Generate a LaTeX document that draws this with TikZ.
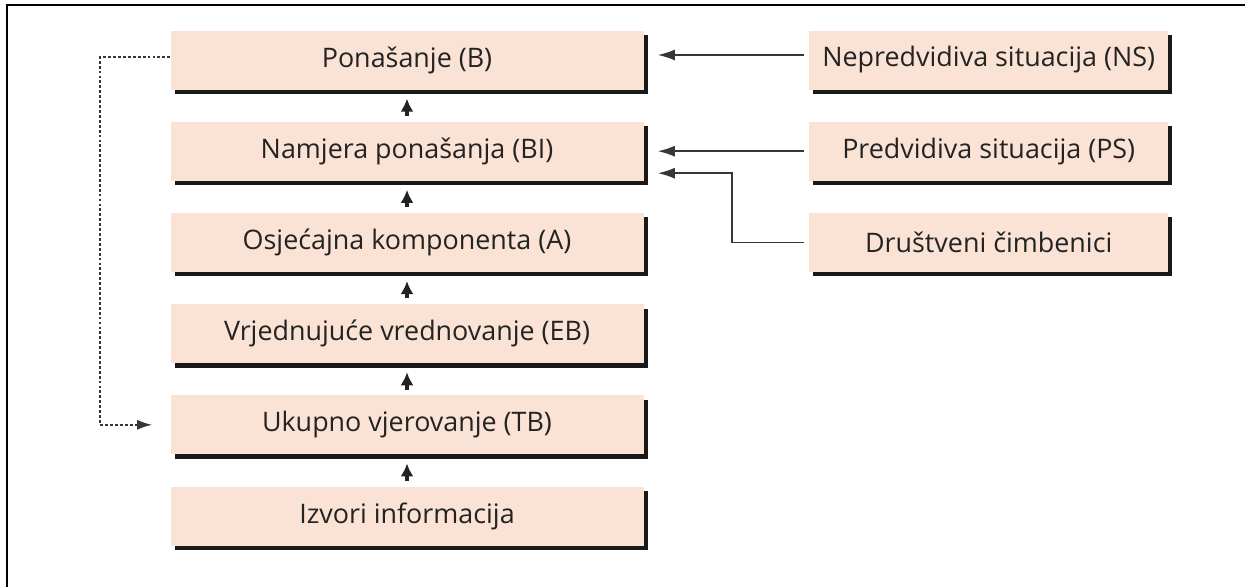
\documentclass[tikz,border=0pt]{standalone}
\usepackage{fontspec}
\setmainfont{Open Sans}
\usetikzlibrary{arrows.meta,positioning,shadows}
\definecolor{boxPeach}{RGB}{250,227,213}
\definecolor{inkGray}{RGB}{35,35,35}
\definecolor{lineGray}{RGB}{55,55,55}
\tikzset{
  stage/.style={fill=boxPeach,minimum width=9.46cm,minimum height=1.18cm,inner sep=0pt,
    text=inkGray,font=\fontsize{15.3}{17}\selectfont,
    drop shadow={shadow xshift=2.4pt,shadow yshift=-2.6pt,fill=black!90,opacity=1}},
  factor/.style={stage,minimum width=7.18cm},
  upflow/.style={-{Latex[length=0.26cm,width=0.26cm]},line width=1.8pt,color=inkGray,shorten <=3pt,shorten >=5pt},
  sideflow/.style={-{Latex[length=0.34cm,width=0.22cm]},line width=0.9pt,color=lineGray,shorten <=0.1cm,shorten >=0.28cm},
  feedback/.style={-{Latex[length=0.3cm,width=0.2cm]},line width=0.9pt,color=lineGray,dash pattern=on 1.6pt off 1.2pt,shorten >=0.36cm}
}

\begin{document}
\begin{tikzpicture}[node distance=0.63cm]
\useasboundingbox (0,0) rectangle (24.9,-11.74);
\draw[line width=1.2pt] (24.9,-0.1) -- (0.14,-0.1) -- (0.14,-11.74);

\node[stage] (ponasanje) at (8.14,-1.2) {Ponašanje (B)};
\node[stage,below=of ponasanje] (namjera) {Namjera ponašanja (BI)};
\node[stage,below=of namjera] (osjecaj) {Osjećajna komponenta (A)};
\node[stage,below=of osjecaj] (vrednovanje) {Vrjednujuće vrednovanje (EB)};
\node[stage,below=of vrednovanje] (vjerovanje) {Ukupno vjerovanje (TB)};
\node[stage,below=of vjerovanje] (izvori) {Izvori informacija};

\node[factor,right=3.3cm of ponasanje] (nepredvidiva) {Nepredvidiva situacija (NS)};
\node[factor,right=3.3cm of namjera] (predvidiva) {Predvidiva situacija (PS)};
\node[factor,right=3.3cm of osjecaj] (drustveni) {Društveni čimbenici};

\draw[upflow] (namjera) -- (ponasanje);
\draw[upflow] (osjecaj) -- (namjera);
\draw[upflow] (vrednovanje) -- (osjecaj);
\draw[upflow] (vjerovanje) -- (vrednovanje);
\draw[upflow] (izvori) -- (vjerovanje);

\draw[sideflow] ([yshift=0.1cm]nepredvidiva.west) -- ([yshift=0.1cm]ponasanje.east);
\draw[sideflow] (predvidiva.west) -- (namjera.east);
\draw[sideflow] (drustveni.west) -- ++(-1.54,0) |- ([yshift=-0.44cm]namjera.east);

\draw[feedback] ([yshift=0.06cm]ponasanje.west) -- ++(-1.4,0) |- (vjerovanje.west);
\end{tikzpicture}
\end{document}
